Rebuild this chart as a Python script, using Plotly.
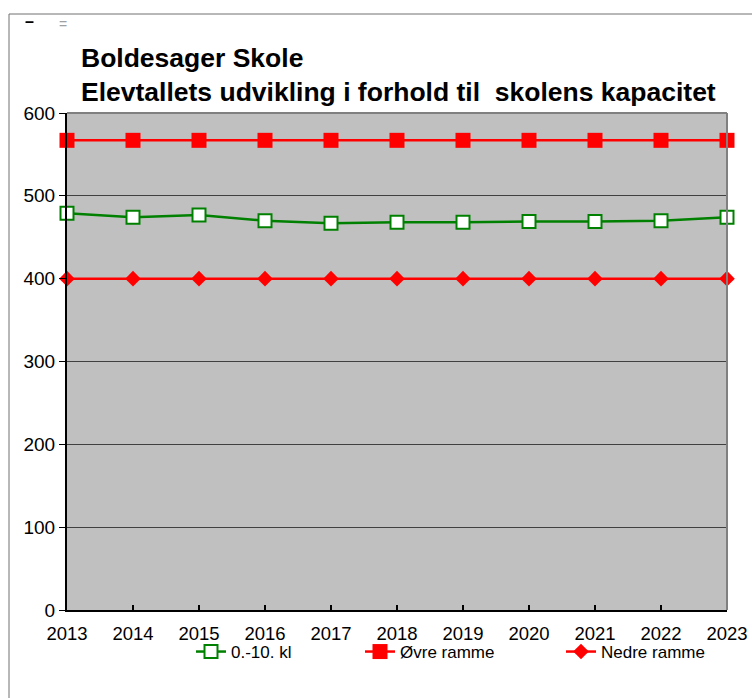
import plotly.graph_objects as go

years = [2013, 2014, 2015, 2016, 2017, 2018, 2019, 2020, 2021, 2022, 2023]
elever = [479, 474, 477, 470, 467, 468, 468, 469, 469, 470, 474]
ovre = [567] * 11
nedre = [400] * 11
names = ["0.-10. kl", "Øvre ramme", "Nedre ramme"]

W, H = 752, 698
# plot area in screen pixels: x 67..727, y 113..610
L, R, T, B = 67, W - 727, 113, H - 610
pw, ph = 660, 497

def px(x):
    return (x - L) / pw

def py(y):
    return (610 - y) / ph

font = "Liberation Sans, Arial, sans-serif"

fig = go.Figure()
fig.add_trace(go.Scatter(x=years, y=elever, name=names[0], mode="lines+markers",
                         line=dict(color="#008000", width=2.5),
                         marker=dict(symbol="square", size=13, color="white",
                                     line=dict(color="#008000", width=2)),
                         cliponaxis=False, legend="legend"))
fig.add_trace(go.Scatter(x=years, y=ovre, name=names[1], mode="lines+markers",
                         line=dict(color="#FF0000", width=2.5),
                         marker=dict(symbol="square", size=15, color="#FF0000"),
                         cliponaxis=False, legend="legend2"))
fig.add_trace(go.Scatter(x=years, y=nedre, name=names[2], mode="lines+markers",
                         line=dict(color="#FF0000", width=2.5),
                         marker=dict(symbol="diamond", size=12, color="#FF0000"),
                         cliponaxis=False, legend="legend3"))

def leg(text_x):
    return dict(orientation="v", x=px(text_x - 40), xanchor="left", y=py(652), yanchor="middle",
                font=dict(size=17, family=font), bgcolor="rgba(0,0,0,0)", borderwidth=0)

fig.update_layout(
    width=W, height=H, autosize=False,
    margin=dict(l=L, r=R, t=T, b=B, autoexpand=False),
    paper_bgcolor="white",
    plot_bgcolor="#C0C0C0",
    font=dict(family=font, size=18, color="black"),
    showlegend=True,
    legend=leg(231),
    legend2=leg(400),
    legend3=leg(601),
    xaxis=dict(range=[2013, 2023], tickvals=years, ticktext=[str(y) for y in years],
               showgrid=False, zeroline=False, showline=True, linecolor="black", linewidth=2,
               ticks="inside", ticklen=5, tickcolor="black", tickwidth=2,
               ticklabelstandoff=6,
               tickfont=dict(size=18.5), fixedrange=True),
    yaxis=dict(range=[0, 600], tickvals=[0, 100, 200, 300, 400, 500, 600],
               showgrid=True, gridcolor="#404040", gridwidth=1, zeroline=False,
               showline=True, linecolor="black", linewidth=2,
               ticks="outside", ticklen=6, tickcolor="black",
               tickfont=dict(size=19), fixedrange=True),
    annotations=[
        dict(text="<b>Boldesager Skole</b>", xref="paper", yref="paper",
             x=px(79), y=py(58), xanchor="left", yanchor="middle", showarrow=False,
             font=dict(size=26.5, family=font)),
        dict(text="<b>Elevtallets udvikling i forhold til\u00a0 skolens kapacitet</b>", xref="paper", yref="paper",
             x=px(79), y=py(92), xanchor="left", yanchor="middle", showarrow=False,
             font=dict(size=26.5, family=font)),
        dict(text="<b>–</b>", xref="paper", yref="paper", x=px(23), y=py(11), showarrow=False,
             font=dict(size=16, color="black")),
        dict(text="=", xref="paper", yref="paper", x=px(57), y=py(14), showarrow=False,
             font=dict(size=14, color="#A0A0A0")),
    ],
    shapes=[
        dict(type="rect", xref="paper", yref="paper", x0=px(9), x1=px(800), y0=py(800), y1=py(14),
             line=dict(color="#707070", width=1), layer="below"),
        dict(type="line", xref="paper", yref="paper", x0=0, x1=1, y0=1, y1=1,
             line=dict(color="#808080", width=2)),
        dict(type="line", xref="paper", yref="paper", x0=1, x1=1, y0=0, y1=1,
             line=dict(color="#808080", width=2)),
    ],
)

fig.write_html("out.html", config={"responsive": False, "displayModeBar": False},
               post_script="document.body.style.margin='0';")
